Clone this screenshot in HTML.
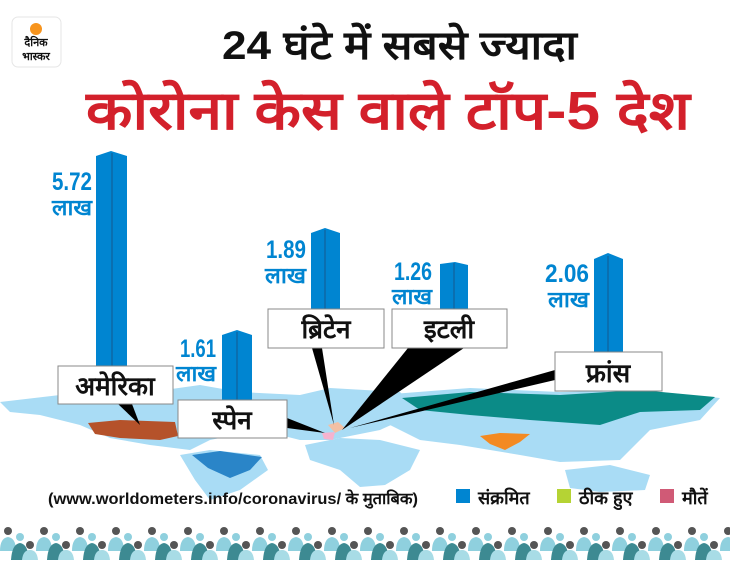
<!DOCTYPE html>
<html><head><meta charset="utf-8"><style>
body{margin:0;width:730px;height:560px;overflow:hidden;background:#fff;font-family:"Liberation Sans","Noto Sans CJK SC",sans-serif}
svg text{font-family:"Liberation Sans","Noto Sans CJK SC",sans-serif;font-weight:bold}
</style></head><body>
<svg width="730" height="560" viewBox="0 0 730 560" xmlns="http://www.w3.org/2000/svg">
<rect x="12" y="17" width="49" height="50" rx="6" fill="#fff" stroke="#e6e6e6"/>
<circle cx="36" cy="29" r="6" fill="#f7941d"/>
<text x="36" y="46" font-size="11" text-anchor="middle" fill="#111">दैनिक</text>
<text x="36" y="60" font-size="11" text-anchor="middle" fill="#111">भास्कर</text>
<text x="222" y="59" font-size="40" textLength="355" lengthAdjust="spacingAndGlyphs" fill="#111">24 घंटे में सबसे ज्यादा</text>
<text x="86" y="129" font-size="54" textLength="604" lengthAdjust="spacingAndGlyphs" fill="#d3202b">कोरोना केस वाले टॉप-5 देश</text>
<g fill="#a9dcf5">
<path d="M0 402 L60 395 L150 392 L200 385 L240 392 L300 395 L330 388 L400 392 L420 412 L380 430 L330 440 L300 440 L260 430 L210 440 L190 450 L150 445 L110 438 L80 425 L40 415 L10 412Z"/>
<path d="M380 395 L470 388 L560 392 L640 390 L720 398 L700 420 L650 430 L620 460 L560 462 L520 455 L460 445 L420 440 L390 425Z"/>
<path d="M305 445 L340 438 L380 440 L420 450 L410 470 L385 485 L360 487 L340 470 L310 460Z"/>
<path d="M180 455 L210 450 L260 455 L268 470 L240 490 L210 500 L195 480Z"/>
<path d="M565 470 L610 465 L650 475 L645 490 L600 492 L570 488Z"/>
</g>
<path d="M402 398 L470 392 L560 395 L640 390 L715 397 L700 410 L640 412 L600 425 L530 420 L470 415 L420 410Z" fill="#0b8b87"/>
<path d="M88 423 L120 420 L175 422 L178 436 L160 440 L120 438 L95 434Z" fill="#b5522a"/>
<path d="M480 436 L500 433 L530 434 L520 442 L505 450 L490 444Z" fill="#f38a22"/>
<path d="M192 455 L220 451 L262 457 L250 470 L230 478 L208 468Z" fill="#2a85c8"/>
<path d="M328 425 L338 422 L345 428 L335 433Z" fill="#f2c0a4"/>
<path d="M322 433 L335 432 L333 440 L324 439Z" fill="#f5b3cf"/>
<g fill="#000">
<path d="M118 404 L132 404 L140 425Z"/>
<path d="M287 418 L287 428 L325 433Z"/>
<path d="M312 348 L322 348 L334 425Z"/>
<path d="M408 348 L464 348 L342 430Z"/>
<path d="M555 370 L555 380 L350 428Z"/>
</g>
<g>
<path d="M96 156 L111 151 L127 156 L127 372 L96 372Z" fill="#0085d1"/><rect x="111" y="153" width="2" height="219" fill="#0a6fb0"/>
<path d="M222 335 L237 330 L252 335 L252 402 L222 402Z" fill="#0085d1"/><rect x="236" y="332" width="2" height="70" fill="#0a6fb0"/>
<path d="M311 233 L325 228 L340 233 L340 310 L311 310Z" fill="#0085d1"/><rect x="324" y="230" width="2" height="80" fill="#0a6fb0"/>
<path d="M440 264 L455 262 L468 265 L468 310 L440 310Z" fill="#0085d1"/><rect x="453" y="263" width="2" height="47" fill="#0a6fb0"/>
<path d="M594 259 L608 253 L623 259 L623 352 L594 352Z" fill="#0085d1"/><rect x="607" y="256" width="2" height="96" fill="#0a6fb0"/>
</g>
<g fill="#0085d1" font-size="25" lengthAdjust="spacingAndGlyphs">
<text x="52" y="190" textLength="40" lengthAdjust="spacingAndGlyphs">5.72</text><text x="52" y="215" font-size="22" textLength="40" lengthAdjust="spacingAndGlyphs">लाख</text>
<text x="180" y="357" textLength="36" lengthAdjust="spacingAndGlyphs">1.61</text><text x="176" y="381" font-size="22" textLength="40" lengthAdjust="spacingAndGlyphs">लाख</text>
<text x="266" y="258" textLength="40" lengthAdjust="spacingAndGlyphs">1.89</text><text x="265" y="283" font-size="22" textLength="41" lengthAdjust="spacingAndGlyphs">लाख</text>
<text x="394" y="280" textLength="38" lengthAdjust="spacingAndGlyphs">1.26</text><text x="392" y="304" font-size="22" textLength="40" lengthAdjust="spacingAndGlyphs">लाख</text>
<text x="545" y="282" textLength="44" lengthAdjust="spacingAndGlyphs">2.06</text><text x="548" y="307" font-size="22" textLength="41" lengthAdjust="spacingAndGlyphs">लाख</text>
</g>
<g fill="#fff" stroke="#888" stroke-width="1">
<rect x="58" y="366" width="115" height="38"/>
<rect x="178" y="400" width="109" height="38"/>
<rect x="268" y="309" width="116" height="39"/>
<rect x="392" y="309" width="115" height="39"/>
<rect x="555" y="352" width="107" height="39"/>
</g>
<g fill="#111" font-size="26" text-anchor="middle">
<text x="115" y="395">अमेरिका</text>
<text x="232" y="429">स्पेन</text>
<text x="326" y="338">ब्रिटेन</text>
<text x="449" y="338">इटली</text>
<text x="608" y="382">फ्रांस</text>
</g>
<text x="48" y="504" font-size="16" textLength="370" lengthAdjust="spacingAndGlyphs" fill="#111">(www.worldometers.info/coronavirus/ के मुताबिक)</text>
<rect x="456" y="489" width="14" height="14" fill="#0085d1"/><text x="478" y="504" font-size="18" fill="#111">संक्रमित</text>
<rect x="557" y="489" width="14" height="14" fill="#b5d334"/><text x="579" y="504" font-size="18" fill="#111">ठीक हुए</text>
<rect x="660" y="489" width="14" height="14" fill="#d05a76"/><text x="682" y="504" font-size="18" fill="#111">मौतें</text>
<defs><g id="p">
<circle cx="8" cy="6" r="4" fill="#555"/><path d="M0 26 Q0 13 8 12 Q16 13 16 26Z" fill="#8fd0de"/>
<circle cx="20" cy="12" r="4" fill="#8fd0de"/><path d="M11 35 Q12 19 20 18 Q28 19 29 35Z" fill="#3d8a92"/>
<circle cx="30" cy="20" r="4" fill="#555"/><path d="M22 35 Q23 25 30 25 Q37 25 38 35Z" fill="#a8dce6"/>
</g></defs>
<g>
<use href="#p" x="0" y="525"/><use href="#p" x="36" y="525"/><use href="#p" x="72" y="525"/><use href="#p" x="108" y="525"/>
<use href="#p" x="144" y="525"/><use href="#p" x="180" y="525"/><use href="#p" x="216" y="525"/><use href="#p" x="252" y="525"/>
<use href="#p" x="288" y="525"/><use href="#p" x="324" y="525"/><use href="#p" x="360" y="525"/><use href="#p" x="396" y="525"/>
<use href="#p" x="432" y="525"/><use href="#p" x="468" y="525"/><use href="#p" x="504" y="525"/><use href="#p" x="540" y="525"/>
<use href="#p" x="576" y="525"/><use href="#p" x="612" y="525"/><use href="#p" x="648" y="525"/><use href="#p" x="684" y="525"/><use href="#p" x="720" y="525"/>
</g>
</svg>
</body></html>
